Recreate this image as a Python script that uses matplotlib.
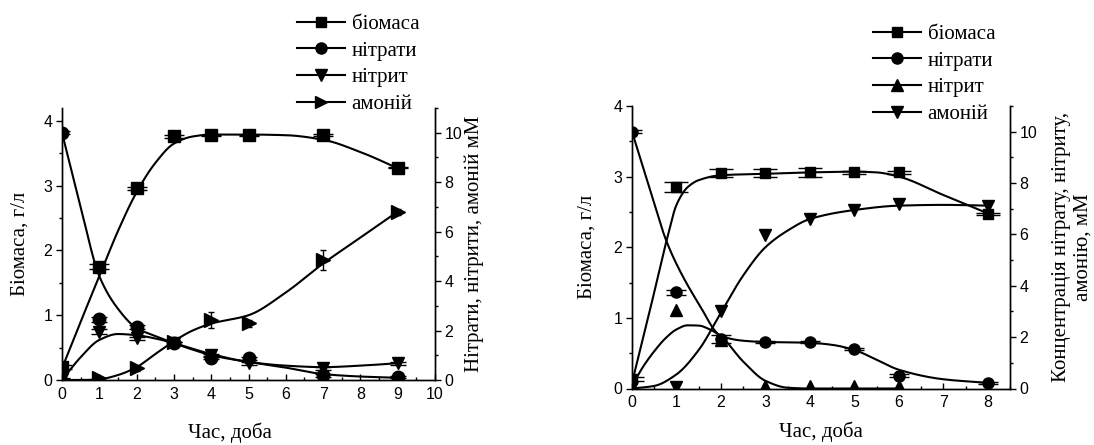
import numpy as np
import matplotlib
matplotlib.use("Agg")
import matplotlib.pyplot as plt
from matplotlib.lines import Line2D
from matplotlib.ticker import MultipleLocator

# ---------------- data: left panel ----------------
L_t = [0, 1, 2, 3, 4, 5, 7, 9]
L_biomass = [0.20, 1.75, 2.96, 3.76, 3.78, 3.78, 3.78, 3.28]
L_biomass_err = [0.03, 0.04, 0.02, 0.02, 0.01, 0.01, 0.02, 0.01]
L_nitrate = [10.0, 2.45, 2.13, 1.48, 0.90, 0.88, 0.20, 0.13]
L_nitrate_err = [0.05, 0.10, 0.08, 0.05, 0.05, 0.06, 0.06, 0.03]
L_nitrite = [0.05, 1.96, 1.68, 1.48, 1.01, 0.67, 0.47, 0.67]
L_nitrite_err = [0.03, 0.10, 0.05, 0.05, 0.05, 0.06, 0.06, 0.06]
L_ammonium = [0.0, 0.07, 0.47, 1.55, 2.42, 2.29, 4.85, 6.80]
L_ammonium_err = [0.02, 0.05, 0.10, 0.15, 0.32, 0.13, 0.40, 0.13]

# fitted curves
L_fit_t = [0, 0.5, 1, 1.5, 2, 2.5, 3, 3.5, 4, 5, 6, 7, 8, 9]
L_fit_biomass = [0.18, 0.9, 1.6, 2.3, 2.9, 3.35, 3.65, 3.76, 3.79, 3.79, 3.78, 3.71, 3.52, 3.27]
L_fit_nitrate = [10.0, 7.0, 4.2, 2.88, 2.1, 1.78, 1.49, 1.23, 1.0, 0.73, 0.5, 0.24, 0.14, 0.09]
L_fit_nitrite = [0.0, 0.92, 1.62, 1.86, 1.81, 1.68, 1.49, 1.26, 1.05, 0.73, 0.58, 0.52, 0.58, 0.68]
L_fit_ammonium = [0.0, 0.0, 0.03, 0.2, 0.52, 1.05, 1.57, 2.0, 2.28, 2.62, 3.54, 4.71, 5.76, 6.81]

# ---------------- data: right panel ----------------
R_t = [0, 1, 2, 3, 4, 5, 6, 8]
R_biomass = [0.13, 2.85, 3.05, 3.05, 3.06, 3.06, 3.06, 2.47]
R_biomass_err = [0.03, 0.07, 0.06, 0.06, 0.06, 0.02, 0.02, 0.02]
R_nitrate = [10.0, 3.75, 1.93, 1.81, 1.81, 1.54, 0.50, 0.22]
R_nitrate_err = [0.05, 0.10, 0.15, 0.05, 0.05, 0.05, 0.05, 0.05]
R_nitrite_t = [0, 1, 2, 3, 4, 5, 6]
R_nitrite = [0.10, 3.06, 1.90, 0.10, 0.10, 0.10, 0.10]
R_ammonium = [0.05, 0.05, 3.0, 5.97, 6.6, 6.96, 7.17, 7.1]

R_fit_bio_t = [0, 0.4, 0.8, 1, 1.25, 1.5, 2, 3, 4, 5, 5.5, 6, 7, 8]
R_fit_biomass = [0.08, 1.1, 2.15, 2.6, 2.85, 2.95, 3.02, 3.04, 3.06, 3.07, 3.06, 3.0, 2.74, 2.48]
R_fit_nitrate_t = [0, 0.25, 0.5, 0.75, 1, 1.5, 2, 2.5, 3, 3.5, 4, 4.5, 5, 5.5, 6, 7, 8]
R_fit_nitrate = [10.0, 8.6, 7.2, 5.85, 4.85, 3.3, 2.05, 1.86, 1.81, 1.8, 1.78, 1.7, 1.5, 1.12, 0.73, 0.36, 0.22]
R_fit_nitrite_t = [0, 0.25, 0.5, 0.75, 1, 1.25, 1.5, 1.75, 2, 2.5, 3, 3.5, 4, 5, 6]
R_fit_nitrite = [0.1, 0.85, 1.45, 1.95, 2.3, 2.46, 2.45, 2.3, 2.03, 1.05, 0.3, 0.03, 0, 0, 0]
R_fit_amm_t = [0, 0.5, 1, 1.5, 2, 2.5, 3, 3.5, 4, 5, 6, 7, 8]
R_fit_ammonium = [0, 0.1, 0.55, 1.5, 2.95, 4.4, 5.5, 6.15, 6.6, 6.95, 7.12, 7.15, 7.12]

LEG_LABELS = ["біомаса", "нітрати", "нітрит", "амоній"]
XLABEL = "Час, доба"
YLABEL = "Біомаса, г/л"
Y2LABEL_L = "Нітрати, нітрити, амоній мМ"
Y2LABEL_R = "Концентрація нітрату, нітриту,\nамонію, мМ"


def pchip(x, y, xs):
    x = np.asarray(x, float); y = np.asarray(y, float)
    h = np.diff(x); d = np.diff(y) / h
    n = len(x); m = np.zeros(n)
    m[0] = d[0]; m[-1] = d[-1]
    for k in range(1, n - 1):
        if d[k - 1] * d[k] <= 0:
            m[k] = 0.0
        else:
            w1 = 2 * h[k] + h[k - 1]; w2 = h[k] + 2 * h[k - 1]
            m[k] = (w1 + w2) / (w1 / d[k - 1] + w2 / d[k])
    xs = np.asarray(xs, float)
    idx = np.clip(np.searchsorted(x, xs) - 1, 0, n - 2)
    t = (xs - x[idx]) / h[idx]
    h00 = 2 * t**3 - 3 * t**2 + 1; h10 = t**3 - 2 * t**2 + t
    h01 = -2 * t**3 + 3 * t**2; h11 = t**3 - t**2
    return h00 * y[idx] + h10 * h[idx] * m[idx] + h01 * y[idx + 1] + h11 * h[idx] * m[idx + 1]


def curve(ax, tx, ty, lw=1.5):
    xs = np.linspace(tx[0], tx[-1], 400)
    ax.plot(xs, pchip(tx, ty, xs), color="k", lw=lw, zorder=2)


SERIF = ["Liberation Serif", "DejaVu Serif"]
SANS = ["Liberation Sans", "DejaVu Sans"]
plt.rcParams["font.family"] = SANS
plt.rcParams["axes.linewidth"] = 1.0

W, H = 1094, 445
fig = plt.figure(figsize=(W / 100, H / 100), dpi=100)


def style_axes(ax, ax2, xmax, ymax, y2max):
    ax.set_xlim(0, xmax); ax.set_ylim(0, ymax)
    ax2.set_ylim(0, y2max)
    ax.spines["top"].set_visible(False)
    ax2.spines["top"].set_visible(False)
    ax.xaxis.set_major_locator(MultipleLocator(1))
    ax.xaxis.set_minor_locator(MultipleLocator(0.5))
    ax.yaxis.set_major_locator(MultipleLocator(1))
    ax.yaxis.set_minor_locator(MultipleLocator(0.5))
    ax2.yaxis.set_major_locator(MultipleLocator(2))
    ax2.yaxis.set_minor_locator(MultipleLocator(1))
    ax.tick_params(axis="x", which="major", direction="in", length=4, width=1, labelsize=11.5, pad=5)
    ax.tick_params(axis="x", which="minor", direction="in", length=2.5, width=1)
    ax.tick_params(axis="y", which="major", direction="out", length=4, width=1, labelsize=11.5, pad=3)
    ax.tick_params(axis="y", which="minor", direction="out", length=2.5, width=1)
    ax2.tick_params(axis="y", which="major", direction="out", length=4, width=1, labelsize=11.5, pad=3)
    ax2.tick_params(axis="y", which="minor", direction="out", length=2.5, width=1)


def px_rect(x0, x1, ytop, ybot):
    return [x0 / W, 1 - ybot / H, (x1 - x0) / W, (ybot - ytop) / H]

ek = dict(color="k", elinewidth=1.0, capthick=1.0, linestyle="none", zorder=3)
LEGKW = dict(loc="upper left", bbox_transform=fig.transFigure, frameon=False, borderpad=0,
             handlelength=2.3, handletextpad=0.3, labelspacing=0.34,
             prop={"family": SERIF, "size": 15}, numpoints=1)

# ---------------- left panel ----------------
axL = fig.add_axes(px_rect(62, 435, 108, 380))
axL2 = axL.twinx()
style_axes(axL, axL2, 10, 4.2, 11)

curve(axL, L_fit_t, L_fit_biomass)
curve(axL2, L_fit_t, L_fit_nitrate)
curve(axL2, L_fit_t, L_fit_nitrite)
curve(axL2, L_fit_t, L_fit_ammonium)

axL.errorbar(L_t, L_biomass, yerr=L_biomass_err, fmt="s", ms=8.5, capsize=7, **ek)
axL2.errorbar(L_t, L_nitrate, yerr=L_nitrate_err, fmt="o", ms=9, capsize=6, **ek)
axL2.errorbar(L_t, L_nitrite, yerr=L_nitrite_err, fmt="v", ms=9, capsize=6, **ek)
axL2.errorbar(L_t, L_ammonium, yerr=L_ammonium_err, fmt=">", ms=9.5, capsize=2.2, **ek)

axL.set_xlabel(XLABEL, family=SERIF, fontsize=15)
axL.xaxis.set_label_coords(0.45, -0.155)
axL.set_ylabel(YLABEL, family=SERIF, fontsize=15)
axL.yaxis.set_label_coords(-0.086, 0.5)
axL2.set_ylabel(Y2LABEL_L, family=SERIF, fontsize=15)
axL2.yaxis.set_label_coords(1.08, 0.5)

hL = [Line2D([], [], color="k", lw=1.5, marker=m, ms=s) for m, s in
      [("s", 7), ("o", 8), ("v", 8), (">", 8)]]
axL.legend(hL, LEG_LABELS, bbox_to_anchor=(287 / W, 1 - 4 / H), **LEGKW)

# ---------------- right panel ----------------
axR = fig.add_axes(px_rect(632, 1010, 106, 388.5))
axR2 = axR.twinx()
style_axes(axR, axR2, 8.5, 4, 11)

curve(axR, R_fit_bio_t, R_fit_biomass)
curve(axR2, R_fit_nitrate_t, R_fit_nitrate)
curve(axR2, R_fit_nitrite_t, R_fit_nitrite)
curve(axR2, R_fit_amm_t, R_fit_ammonium)

axR.errorbar(R_t, R_biomass, yerr=R_biomass_err, fmt="s", ms=7.5, capsize=8.5, **ek)
axR2.errorbar(R_t, R_nitrate, yerr=R_nitrate_err, fmt="o", ms=8, capsize=7, **ek)
axR2.plot(R_nitrite_t, R_nitrite, "^", color="k", ms=8.5, ls="none", zorder=3)
axR2.plot(R_t, R_ammonium, "v", color="k", ms=8.5, ls="none", zorder=3)

axR.set_xlabel(XLABEL, family=SERIF, fontsize=15)
axR.xaxis.set_label_coords(0.5, -0.118)
axR.set_ylabel(YLABEL, family=SERIF, fontsize=15)
axR.yaxis.set_label_coords(-0.095, 0.5)
axR2.set_ylabel(Y2LABEL_R, family=SERIF, fontsize=15, multialignment="center")
axR2.yaxis.set_label_coords(1.11, 0.5)

hR = [Line2D([], [], color="k", lw=1.5, marker=m, ms=s) for m, s in
      [("s", 7), ("o", 8), ("^", 8), ("v", 8)]]
legR = axR.legend(hR, LEG_LABELS, bbox_to_anchor=(863 / W, 1 - 14 / H), **LEGKW)
legR.set_zorder(5)

fig.savefig("out.png", dpi=100)
